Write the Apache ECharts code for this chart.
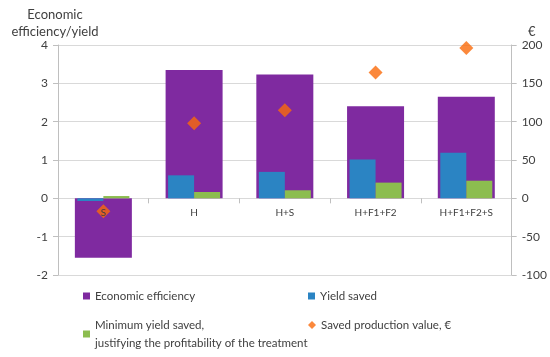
<!DOCTYPE html>
<html><head><meta charset="utf-8">
<script src="https://cdn.jsdelivr.net/npm/echarts@6/dist/echarts.min.js"></script>
<style>html,body{margin:0;padding:0;background:#fff}#c{width:550px;height:357px}</style>
</head><body><div id="c"></div>
<script>
var categories = ['S', 'H', 'H+S', 'H+F1+F2', 'H+F1+F2+S'];
var economicEfficiency = [-1.55, 3.35, 3.23, 2.40, 2.65];
var yieldSaved = [-0.07, 0.60, 0.69, 1.01, 1.19];
var minYieldSaved = [0.06, 0.165, 0.21, 0.41, 0.46];
var savedValue = [-17, 98, 115, 164, 196];
var leftTicks = [-2, 4, 1];
var rightTicks = [-100, 200, 50];

var FONT = 'Lato';
var TXT = '#404040';
var chart = echarts.init(document.getElementById('c'), null, {renderer: 'canvas'});
var N1 = 'Economic efficiency', N2 = 'Yield saved',
    N3 = 'Minimum yield saved,\njustifying the profitability of the treatment',
    N4 = 'Saved production value, €';
function leg(name, left, top, icon, w, h) {
  return {data: [{name: name, icon: icon}], left: left, top: top, itemWidth: w, itemHeight: h, itemGap: 0,
    padding: 0, textStyle: {fontFamily: FONT, fontSize: 11.5, color: TXT, lineHeight: 18}, selectedMode: false};
}
var gridTop = 45, gridBottom = 82, gridH = 357 - gridTop - gridBottom;
var zeroOffset = -gridH * (0 - leftTicks[0]) / (leftTicks[1] - leftTicks[0]);
chart.setOption({
  animation: false,
  textStyle: {fontFamily: FONT},
  grid: {left: 58, right: 37, top: gridTop, bottom: gridBottom},
  title: [
    {text: 'Economic\nefficiency/yield', left: 50, top: 1, textAlign: 'center',
     textStyle: {fontFamily: FONT, fontSize: 13, fontWeight: 'normal', color: TXT, lineHeight: 17}},
    {text: '€', left: 523, top: 20, textStyle: {fontFamily: FONT, fontSize: 13, fontWeight: 'normal', color: TXT}}
  ],
  legend: [
    leg(N1, 83, 287, 'rect', 7, 7),
    leg(N2, 308, 287, 'rect', 7, 7),
    leg(N3, 83, 316, 'rect', 7, 7),
    leg(N4, 308, 316, 'diamond', 8, 8)
  ],
  xAxis: [
    {type: 'category', data: categories, z: 5, position: 'bottom', offset: zeroOffset,
     axisLine: {show: false, onZero: false},
     axisTick: {show: true, lineStyle: {color: '#bfbfbf'}, length: 5},
     axisLabel: {fontFamily: FONT, fontSize: 10, color: TXT, margin: 9}},
    {type: 'category', data: categories, show: false, axisLine: {onZero: false}}
  ],
  yAxis: [
    {type: 'value', min: leftTicks[0], max: leftTicks[1], interval: leftTicks[2],
     axisLine: {show: true, lineStyle: {color: '#bfbfbf'}},
     axisTick: {show: true, length: 5, lineStyle: {color: '#bfbfbf'}},
     splitLine: {lineStyle: {color: '#d9d9d9'}},
     axisLabel: {fontFamily: FONT, fontSize: 12, color: TXT, margin: 10}},
    {type: 'value', position: 'right', min: rightTicks[0], max: rightTicks[1], interval: rightTicks[2],
     axisLine: {show: true, lineStyle: {color: '#bfbfbf'}},
     axisTick: {show: true, length: 5, lineStyle: {color: '#bfbfbf'}},
     splitLine: {show: false},
     axisLabel: {fontFamily: FONT, fontSize: 12, color: TXT, margin: 10}}
  ],
  series: [
    {name: N1, type: 'bar', xAxisIndex: 0, yAxisIndex: 0, data: economicEfficiency, barWidth: 57,
     itemStyle: {color: '#7f2aa0'}, z: 2},
    {name: N2, type: 'bar', xAxisIndex: 1, yAxisIndex: 0, data: yieldSaved, barWidth: 26, barGap: '0%',
     itemStyle: {color: '#2b84c3'}, z: 3},
    {name: N3, type: 'bar', xAxisIndex: 1, yAxisIndex: 0, data: minYieldSaved, barWidth: 26, barGap: '0%',
     itemStyle: {color: '#8cbd4f'}, z: 3},
    {name: N4, type: 'scatter', xAxisIndex: 0, yAxisIndex: 1, data: savedValue, symbol: 'diamond', symbolSize: 14,
     itemStyle: {color: '#fa6a0a'}, z: 4}
  ]
});
</script></body></html>
